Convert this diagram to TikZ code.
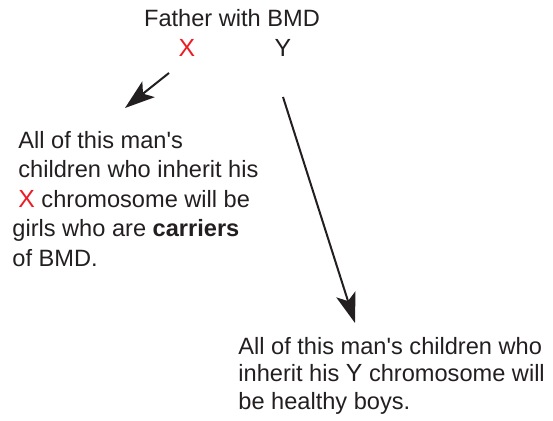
\documentclass[tikz,border=0pt]{standalone}
\usepackage{fontspec}
\setmainfont{Liberation Sans}
\usetikzlibrary{arrows.meta,positioning}
\definecolor{inkgray}{RGB}{35,31,32}
\definecolor{chromred}{RGB}{237,28,36}
\tikzset{
 headtext/.style={
 inner sep=0pt,
 text=inkgray,
 font=\fontsize{11.8}{14}\selectfont
 },
 chromo/.style={
 inner sep=0pt,
 font=\fontsize{12.4}{14}\selectfont
 },
 notetext/.style={
 inner sep=0pt,
 align=left,
 text=inkgray,
 font=\fontsize{11.8}{14.75}\selectfont
 },
 inheritarrow/.style={-{Stealth[length=15pt, width=10pt, inset=3.5pt]}, line width=1pt, draw=inkgray}
}

\begin{document}
\begin{tikzpicture}[x=0.5pt, y=-0.5pt]
 \useasboundingbox (0,0) rectangle (553,421);

 \node[headtext, anchor=base] (father) at (232,27) {Father with BMD};
 \node[chromo, anchor=base, text=chromred] (xchr) at (187,57) {X};
 \node[chromo, anchor=base, text=inkgray] (ychr) at (283,57) {Y};

 \node[notetext, anchor=north west] (girls) at (12,131)
 {\hspace{3pt}All of this man\textquotesingle s\\
 \hspace{3pt}children who inherit his\\
 \hspace{3pt}{\color{chromred}\fontsize{12.4}{14.75}\selectfont X} chromosome will be\\
 girls who are \textbf{carriers}\\
 of BMD.};
 \node[notetext, anchor=north west, font=\fontsize{11.8}{13.75}\selectfont] (boys) at (238,337)
 {All of this man\textquotesingle s children who\\
 inherit his {\fontsize{12.4}{13.75}\selectfont Y} chromosome will\\
 be healthy boys.};

 \coordinate (xtail) at (169,73);
 \coordinate (xtip) at (125,108);
 \coordinate (ytail) at (283,97);
 \coordinate (ytip) at (355,323);

 \draw[inheritarrow] (xtail) -- (xtip);
 \draw[inheritarrow] (ytail) -- (ytip);
\end{tikzpicture}
\end{document}
